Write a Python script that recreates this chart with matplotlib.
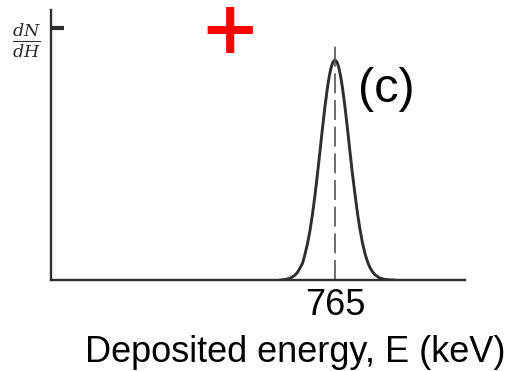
import matplotlib.pyplot as plt

plt.rcParams['font.family'] = ['Liberation Sans', 'DejaVu Sans']
plt.rcParams['mathtext.fontset'] = 'dejavuserif'

# photopeak (energy in keV, relative dN/dH)
energy_kev = [617, 630, 644, 657, 664, 671, 678, 684, 691, 698, 704, 711, 718,
              725, 731, 738, 745, 750, 755, 760, 765,
              770, 775, 780, 785, 792, 799, 805, 812, 819, 826, 832, 839,
              846, 853, 859, 866, 873, 886, 900, 913, 925]
counts = [0.0, 0.0025, 0.008, 0.022, 0.035, 0.055, 0.078, 0.116, 0.165, 0.228,
          0.294, 0.383, 0.484, 0.59, 0.684, 0.787, 0.877, 0.929, 0.968, 0.992, 1.0,
          0.992, 0.968, 0.929, 0.877, 0.787, 0.684, 0.59, 0.484, 0.39, 0.30,
          0.235, 0.17, 0.12, 0.082, 0.058, 0.038, 0.024, 0.009, 0.003, 0.001, 0.0]
peak_kev = 765
tick_labels = ['765']
y_tick = [1.145]

fig = plt.figure(figsize=(5.2, 3.71), dpi=100)
ax = fig.add_axes([0.098, 0.245, 0.796, 0.728])

line_col = '#2e2e2e'
ax.plot(energy_kev, counts, color=line_col, lw=2.1, solid_joinstyle='round')
ax.axvline(peak_kev, ymin=0, ymax=0.87, color='#555555', lw=1.2, dashes=(12, 4))

ax.set_xlim(0, 1115)
ax.set_ylim(0, 1.227)

for s in ['top', 'right']:
    ax.spines[s].set_visible(False)
for s in ['left', 'bottom']:
    ax.spines[s].set_color(line_col)
    ax.spines[s].set_linewidth(1.7)

ax.set_xticks([peak_kev])
ax.set_xticklabels(tick_labels, fontsize=26)
ax.tick_params(axis='x', length=0, pad=6)
ax.set_yticks(y_tick)
ax.set_yticklabels([''])
ax.tick_params(axis='y', direction='in', length=9, width=3, color=line_col)

ax.set_xlabel('Deposited energy, E (keV)', fontsize=26)
ax.xaxis.set_label_coords(0.59, -0.205)

ax.set_ylabel(r'$\frac{dN}{dH}$', rotation=0, fontsize=18, color='#262626',
              va='center')
ax.yaxis.set_label_coords(-0.058, 0.885)

ax.text(0.81, 0.705, '(c)', transform=ax.transAxes, fontsize=35,
        ha='center', va='center')
fig.text(0.436, 0.997, r'$\mathbf{+}$', color='red', fontsize=52,
         ha='center', va='top')

fig.savefig('out.png', dpi=100)
